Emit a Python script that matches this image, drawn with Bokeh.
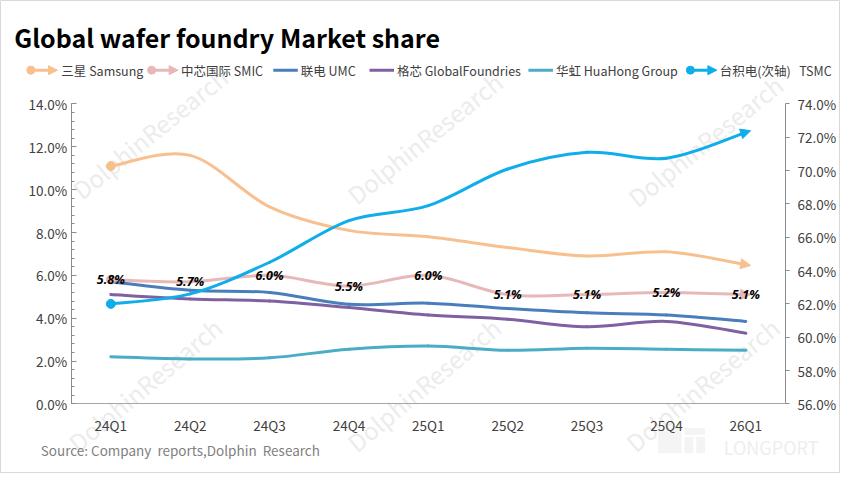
import math

from bokeh.plotting import figure
from bokeh.models import (Range1d, LinearAxis, SingleIntervalTicker, FixedTicker,
                          PrintfTickFormatter, Arrow, NormalHead, Label, LabelSet,
                          BoxAnnotation, ColumnDataSource)
from bokeh.core.properties import value
from bokeh.embed import file_html
from bokeh.resources import INLINE

# values (percent of global foundry revenue)
quarters = ["24Q1", "24Q2", "24Q3", "24Q4", "25Q1", "25Q2", "25Q3", "25Q4", "26Q1"]
samsung = [11.1, 11.6, 9.2, 8.1, 7.8, 7.3, 6.9, 7.1, 6.5]
smic = [5.8, 5.7, 6.0, 5.5, 6.0, 5.1, 5.1, 5.2, 5.1]
umc = [5.7, 5.3, 5.2, 4.65, 4.7, 4.45, 4.25, 4.15, 3.85]
gf = [5.1, 4.9, 4.8, 4.5, 4.15, 3.95, 3.6, 3.85, 3.3]
huahong = [2.2, 2.1, 2.15, 2.55, 2.7, 2.5, 2.6, 2.55, 2.5]
tsmc = [62.0, 62.6, 64.5, 67.0, 67.9, 70.1, 71.1, 70.75, 72.3]  # secondary axis

C_SAMSUNG = "#F9C08F"
C_SMIC = "#E6B9B8"
C_UMC = "#4A7EBB"
C_GF = "#7F60A0"
C_HUAHONG = "#4BACC6"
C_TSMC = "#0FAEEA"

FONT = "Noto Sans CJK SC"
W, H = 840, 473

xs = [i + 0.5 for i in range(len(quarters))]


def smooth(ys):
    # catmull-rom style bezier pieces, like excel's smoothed line
    n = len(xs)
    out = dict(x0=[], y0=[], x1=[], y1=[], cx0=[], cy0=[], cx1=[], cy1=[])
    for i in range(n - 1):
        a = max(i - 1, 0)
        b = min(i + 2, n - 1)
        out["x0"].append(xs[i])
        out["y0"].append(ys[i])
        out["x1"].append(xs[i + 1])
        out["y1"].append(ys[i + 1])
        out["cx0"].append(xs[i] + (xs[i + 1] - xs[a]) / 6)
        out["cy0"].append(ys[i] + (ys[i + 1] - ys[a]) / 6)
        out["cx1"].append(xs[i + 1] - (xs[b] - xs[i]) / 6)
        out["cy1"].append(ys[i + 1] - (ys[b] - ys[i]) / 6)
    return out


# the frame fills the whole canvas; the original 856x489 layout (plot area
# x 72..800, y 107..417) is squeezed onto the 840x473 canvas
SX, SY = W / 856, H / 489
L, R, T, B = 72 * SX, 800 * SX, 107 * SY, 417 * SY
UX = (R - L) / len(quarters)
UY = (B - T) / 14
UR = (B - T) / 18


def fx(px):
    return (px * SX - L) / UX


def fy(py):
    return (B - py * SY) / UY


def fr(py):
    return 56 + (B - py * SY) / UR


p = figure(width=W, height=H, x_range=Range1d(fx(0), fx(856)),
           y_range=Range1d(fy(489), fy(0)), x_axis_type=None, y_axis_type=None,
           output_backend="svg", toolbar_location=None, tools="", min_border=0)
p.extra_y_ranges = {"right": Range1d(fr(489), fr(0))}
p.outline_line_color = "#d9d9d9"

ax = LinearAxis(ticker=SingleIntervalTicker(interval=2, num_minor_ticks=5),
                formatter=PrintfTickFormatter(format="%.1f%%"),
                fixed_location=0, bounds=(0, 14))
ax.axis_line_color = "#8c8c8c"
ax.major_tick_line_color = "#8c8c8c"
ax.minor_tick_line_color = "#8c8c8c"
ax.major_tick_in = 5
ax.major_tick_out = 0
ax.minor_tick_in = 3
ax.minor_tick_out = 0
ax.major_label_standoff = 4
p.add_layout(ax, "left")

ra = LinearAxis(y_range_name="right", ticker=SingleIntervalTicker(interval=2, num_minor_ticks=0),
                formatter=PrintfTickFormatter(format="%.1f%%"),
                fixed_location=len(quarters), bounds=(56, 74))
ra.axis_line_color = "#8c8c8c"
ra.major_tick_line_color = "#8c8c8c"
ra.minor_tick_line_color = None
ra.major_tick_in = 0
ra.major_tick_out = 4
ra.major_label_standoff = 8
p.add_layout(ra, "right")

xa = LinearAxis(ticker=FixedTicker(ticks=xs), fixed_location=0, bounds=(0, len(quarters)),
                major_label_overrides={x: q for x, q in zip(xs, quarters)})
xa.axis_line_color = "#a6a6a6"
xa.major_tick_line_color = None
xa.minor_tick_line_color = None
xa.major_tick_in = 0
xa.major_tick_out = 0
xa.major_label_standoff = 11
p.add_layout(xa, "below")

for a in (ax, ra, xa):
    a.major_label_text_font = FONT
    a.major_label_text_font_size = "13.5px"
    a.major_label_text_color = "#404040"

# watermarks
for cx, cy, ang in [(152, 137, 39), (432, 142, 39), (718, 145, 39),
                    (147, 397, 40), (431, 397, 40), (715, 397, 40)]:
    p.add_layout(Label(x=fx(cx), y=fy(cy), text="DolphinResearch", angle=math.radians(ang),
                       text_align="center", text_baseline="middle", text_font=FONT,
                       text_font_size="24px", text_color="#ececec", level="underlay"))

# LONGPORT mark, bottom right
for l, r, t, b in [(670, 694, 442, 468), (697, 718, 442, 449), (697, 706, 451, 468),
                   (709, 718, 451, 468)]:
    p.add_layout(BoxAnnotation(left=fx(l), right=fx(r), top=fy(t), bottom=fy(b),
                               fill_color="#f4f4f4", fill_alpha=1, line_color=None,
                               level="underlay"))
p.add_layout(Label(x=fx(737), y=fy(462), text="LONGPORT", text_baseline="middle",
                   text_font=FONT, text_font_size="18px", text_color="#eeeeee",
                   level="underlay"))

series = [
    (huahong, C_HUAHONG, "default", False),
    (gf, C_GF, "default", False),
    (umc, C_UMC, "default", False),
    (smic, C_SMIC, "default", True),
    (samsung, C_SAMSUNG, "default", True),
    (tsmc, C_TSMC, "right", True),
]

for ys, color, rng, arrowed in series:
    seg = smooth(ys)
    p.bezier(x0="x0", y0="y0", x1="x1", y1="y1", cx0="cx0", cy0="cy0", cx1="cx1", cy1="cy1",
             source=ColumnDataSource(seg), line_color=color, line_width=3,
             line_cap="round", y_range_name=rng)
    if arrowed:
        p.scatter([xs[0]], [ys[0]], size=9, color=color, y_range_name=rng)
        dx = xs[-1] - seg["cx1"][-1]
        dy = ys[-1] - seg["cy1"][-1]
        p.add_layout(Arrow(end=NormalHead(size=10, fill_color=color, line_color=color),
                           x_start=seg["cx1"][-1], y_start=seg["cy1"][-1],
                           x_end=xs[-1] + 0.06, y_end=ys[-1] + dy * 0.06 / dx,
                           line_alpha=0, y_range_name=rng))

# SMIC data labels, on top of the arrow heads
lab_src = ColumnDataSource(dict(x=xs, y=smic, t=["%.1f%%" % v for v in smic]))
p.add_layout(LabelSet(x="x", y="y", text="t", source=lab_src, text_align="center",
                      text_baseline="middle", text_font=value("Open Sans"),
                      text_font_style="bold italic", text_font_size="12.5px",
                      text_color="#000000"))

# title
p.add_layout(Label(x=fx(14), y=fy(38), text="Global wafer foundry Market share",
                   text_baseline="alphabetic", text_font=FONT, text_font_style="bold",
                   text_font_size="25px", text_color="#000000"))

# legend drawn by hand so the arrow / dot ends match the original
legend = [
    ("三星 Samsung", C_SAMSUNG, True, 30, 58, 62),
    ("中芯国际 SMIC", C_SMIC, True, 153, 181, 184),
    ("联电 UMC", C_UMC, False, 278, 303, 306),
    ("格芯 GlobalFoundries", C_GF, False, 376, 401, 404),
    ("华虹 HuaHong Group", C_HUAHONG, False, 538, 563, 566),
    ("台积电(次轴)\u00a0\u00a0 TSMC", C_TSMC, True, 702, 730, 733),
]
ly = fy(72)
for name, color, arrowed, x0, x1, xt in legend:
    head = NormalHead(size=9, fill_color=color, line_color=color) if arrowed else None
    p.add_layout(Arrow(start=None, end=head, x_start=fx(x0), y_start=ly, x_end=fx(x1), y_end=ly,
                       line_color=color, line_width=3))
    if arrowed:
        p.scatter([fx(x0 + 1)], [ly], size=8, color=color)
    p.add_layout(Label(x=fx(xt), y=ly, text=name, text_baseline="middle", text_font=FONT,
                       text_font_size="12.5px", text_color="#404040"))

p.add_layout(Label(x=fx(41), y=fy(465),
                   text="Source: Company\u00a0 reports,Dolphin\u00a0 Research",
                   text_baseline="middle", text_font=FONT, text_font_size="13.5px",
                   text_color="#7f7f7f"))

open("out.html", "w").write(file_html(p, INLINE))
